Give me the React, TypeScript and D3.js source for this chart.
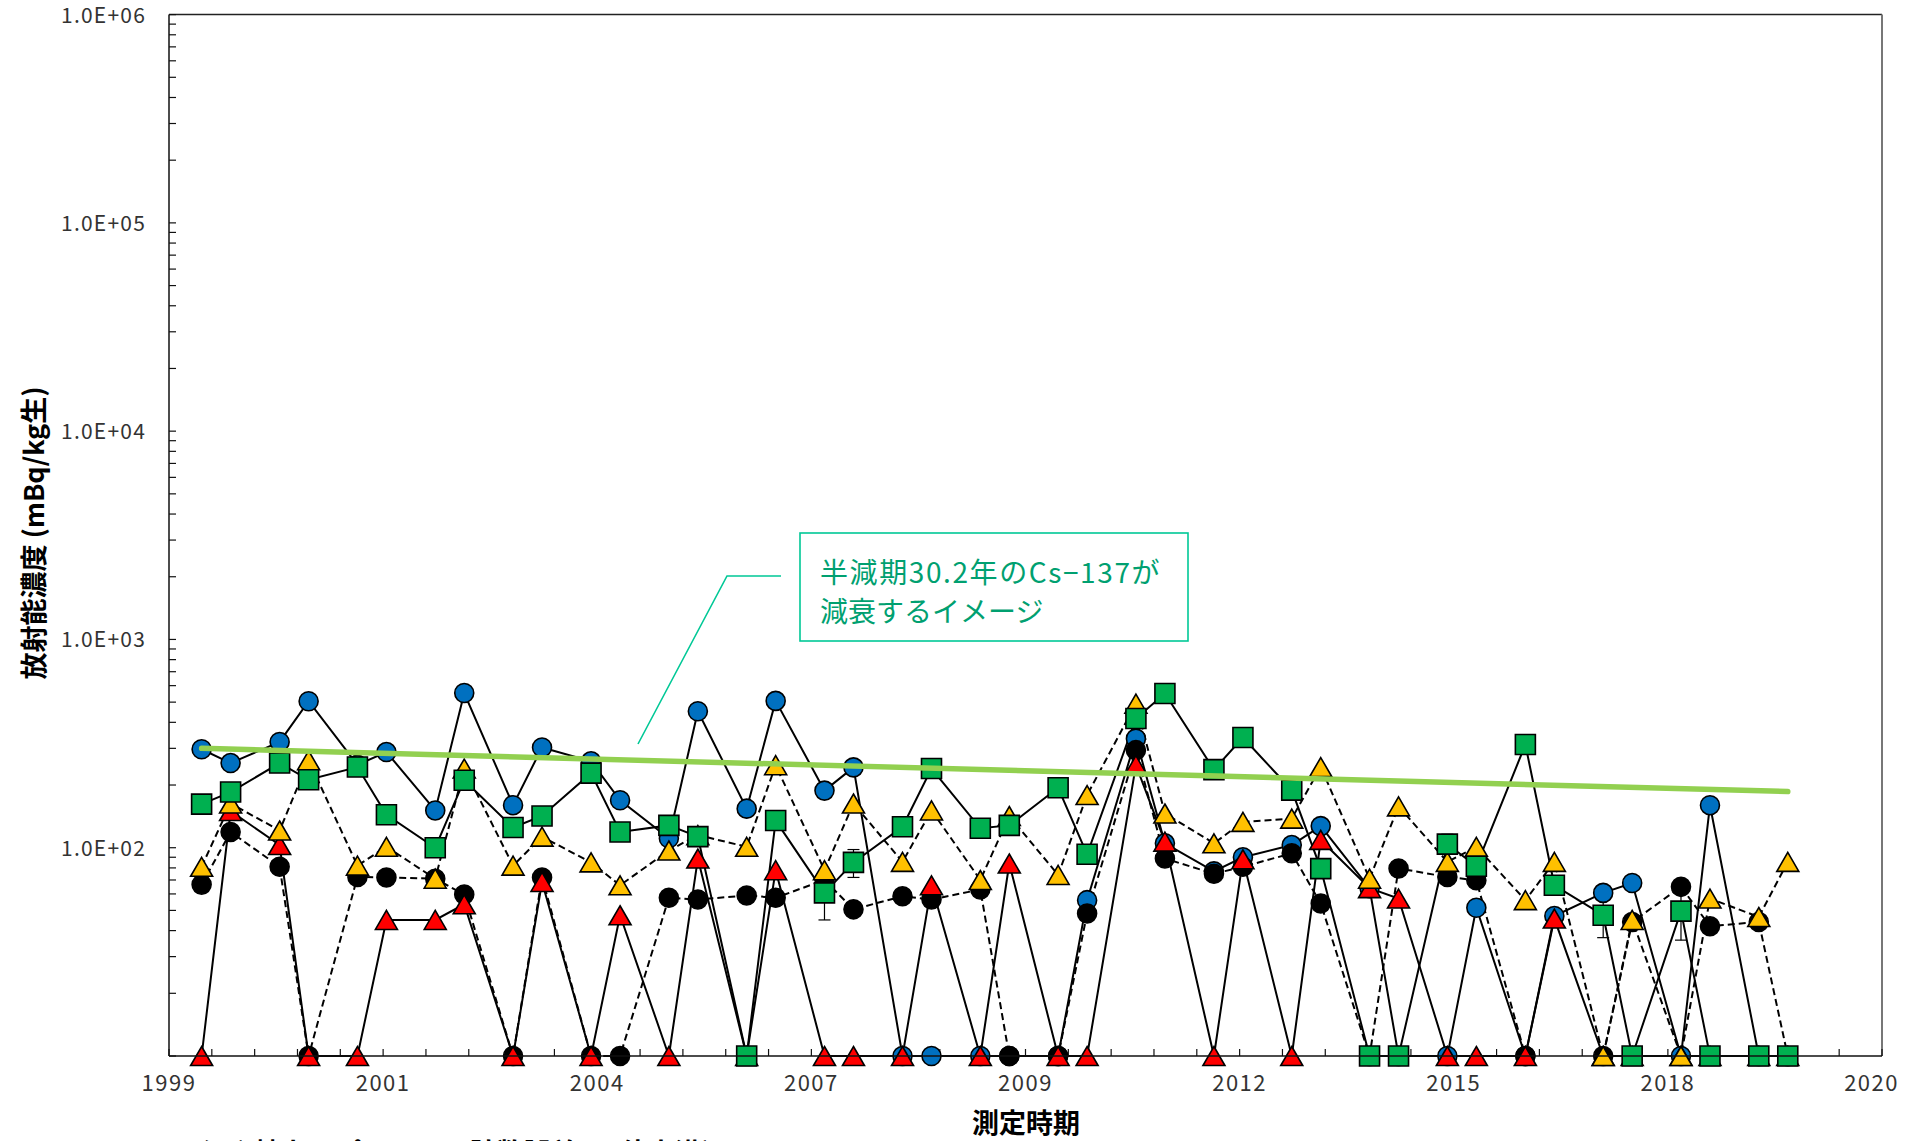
import { useEffect, useRef } from 'react';
import * as d3 from 'd3';

// ND: below 3x counting error, plotted on the axis (10)
const ND = 10;

const sampleDates = [
  '1999-09-01', '2000-01-15', '2000-09-01', '2001-01-15', '2001-09-01', '2002-01-15',
  '2002-09-01', '2003-01-15', '2003-09-01', '2004-01-15', '2004-09-01', '2005-01-15',
  '2005-09-01', '2006-01-15', '2006-09-01', '2007-01-15', '2007-09-01', '2008-01-15',
  '2008-09-01', '2009-01-15', '2009-09-01', '2010-01-15', '2010-09-01', '2011-01-15',
  '2011-09-01', '2012-01-15', '2012-09-01', '2013-01-15', '2013-09-01', '2014-01-15',
  '2014-09-01', '2015-01-15', '2015-09-01', '2016-01-15', '2016-09-01', '2017-01-15',
  '2017-09-01', '2018-01-15', '2018-09-01', '2019-01-15', '2019-09-01', '2020-01-15',
];

const blueValues = [
  297, 255, 322, 505, 250, 288, 151, 553, 160, 303, 260, 169, 111, 452, 154, 507, 188, 243, ND, ND, ND,
  ND, ND, 56, 334, 105, 77, 90, 103, 127, 64, ND, ND, 51.5, ND, 47, 60.7, 67.7, ND, 160, ND, ND,
];
const blackValues = [
  66.5, 119, 81, ND, 72.4, 72, 71, 59.6, ND, 72, ND, ND, 57.5, 56.4, 59, 57.5, 70, 50.6, 58.5, 56.4, 63,
  ND, ND, 48.3, 294, 88.7, 75, 81, 94, 54, ND, 79.5, 72.4, 69.8, ND, null, ND, 44, 64.9, 42, 44, ND,
];
const redValues = [
  ND, 150, 103, ND, ND, 45, 45, 53.5, ND, 68.5, ND, 47.4, ND, 88.7, ND, 78, ND, ND, ND, 66, ND,
  84, ND, ND, 249, 107, ND, 88, ND, 109, 64, 57, ND, ND, ND, 45.7, ND, ND, ND, ND, ND, ND,
];
const yellowValues = [
  81, 163, 121, 263, 82, 101, 71, 240, 82, 113, 85, 66, 97, 115, 101, 249, 78, 163, 85.5, 151, 70,
  142, 74, 179, 492, 146, 105, 133, 138, 244, 71, 158, 85.5, 101, 56, 85.5, ND, 45, ND, 57, 46.5, 85.5,
];
const greenValues = [
  162, 185, 255, 212, 244, 144, 100, 211, 125, 142, 228, 119, 128, 113, ND, 135, 60.7, 85, 126, 240, 124,
  128, 194, 93, 417, 550, 237, 338, 189, 79.4, ND, ND, 104, 81.5, 313, 66, 47.4, ND, 49.6, ND, ND, ND,
];
// green error bars: [sample index, low, high]
const greenErrors = [
  [16, 45, 72], [17, 72, 98], [21, 121, 135], [23, 88, 98], [32, 96, 116], [35, 60, 72], [36, 37, 56], [38, 36, 64],
];

// decay image of Cs-137 (half-life 30.2 y), start and end
const decayDates = ['1999-09-01', '2020-01-15'];
const decayValues = [300, 186];

const xTickLabels = ['1999', '2001', '2004', '2007', '2009', '2012', '2015', '2018', '2020'];
const yTickValues = [1e1, 1e2, 1e3, 1e4, 1e5, 1e6];
const yTickLabels = ['', '1.0E+02', '1.0E+03', '1.0E+04', '1.0E+05', '1.0E+06'];

const FONT = '"Noto Sans CJK JP", "Noto Sans", sans-serif';

function App() {
  const svgRef = useRef<SVGSVGElement>(null);

  useEffect(() => {
    if (svgRef.current === null) return;
    document.body.style.margin = '0';
    document.body.style.overflow = 'hidden';

    const width = 1905;
    const height = 1141;
    const left = 169, right = 1882, top = 14.6, bottom = 1056;

    const parse = d3.timeParse('%Y-%m-%d');
    const dates = sampleDates.map((d) => parse(d) as Date);

    const x = d3.scaleTime()
      .domain([new Date(1999, 3, 1), new Date(2021, 3, 1)])
      .range([left, right]);
    const y = d3.scaleLog().domain([10, 1e6]).range([bottom, top]);

    const svg = d3.select(svgRef.current)
      .attr('width', width)
      .attr('height', height)
      .style('position', 'absolute')
      .style('left', '0px')
      .style('top', '0px')
      .style('background', '#fff');
    svg.selectAll('*').remove();

    // frame
    svg.append('line').attr('x1', left).attr('x2', right).attr('y1', top).attr('y2', top)
      .attr('stroke', '#222').attr('stroke-width', 1.5);
    svg.append('line').attr('x1', right).attr('x2', right).attr('y1', top).attr('y2', bottom)
      .attr('stroke', '#777').attr('stroke-width', 2);

    // y axis with minor ticks
    const yAxis = svg.append('g');
    yAxis.append('line').attr('x1', left).attr('x2', left).attr('y1', top).attr('y2', bottom)
      .attr('stroke', '#111').attr('stroke-width', 1.5);
    const yMinor: number[] = [];
    yTickValues.slice(0, -1).forEach((v) => {
      for (let m = 2; m <= 9; m++) yMinor.push(v * m);
    });
    yAxis.selectAll('line.ymin').data(yTickValues.concat(yMinor)).enter().append('line')
      .attr('class', 'ymin')
      .attr('x1', left).attr('x2', left + 7)
      .attr('y1', (d) => y(d)).attr('y2', (d) => y(d))
      .attr('stroke', '#111').attr('stroke-width', 1.2);
    yAxis.selectAll('text').data(yTickValues).enter().append('text')
      .attr('x', 146)
      .attr('y', (d) => y(d) + 8)
      .attr('text-anchor', 'end')
      .attr('font-family', FONT)
      .attr('font-size', 21)
      .attr('letter-spacing', 1.2)
      .attr('fill', '#333')
      .text((d, i) => yTickLabels[i]);

    // x axis, 8 major intervals with 5 minor each
    const [d0, d1] = x.domain().map((d) => +d);
    const xMajor = d3.range(9).map((k) => new Date(d0 + (k * (d1 - d0)) / 8));
    const xMinor = d3.range(41).map((k) => new Date(d0 + (k * (d1 - d0)) / 40));
    const xAxis = svg.append('g');
    xAxis.selectAll('line.xt').data(xMinor).enter().append('line')
      .attr('class', 'xt')
      .attr('x1', (d) => x(d)).attr('x2', (d) => x(d))
      .attr('y1', bottom).attr('y2', bottom - 7)
      .attr('stroke', '#111').attr('stroke-width', 1.2);
    xAxis.selectAll('text').data(xMajor).enter().append('text')
      .attr('x', (d, i) => (i === xMajor.length - 1 ? x(d) + 17 : x(d)))
      .attr('y', 1091)
      .attr('text-anchor', (d, i) => (i === xMajor.length - 1 ? 'end' : 'middle'))
      .attr('font-family', FONT)
      .attr('font-size', 22)
      .attr('letter-spacing', 1.5)
      .attr('fill', '#333')
      .text((d, i) => xTickLabels[i]);

    // series
    const series = [
      { values: blueValues, shape: 'circle', fill: '#0070C0', dash: null },
      { values: blackValues, shape: 'circle', fill: '#000000', dash: '7,4' },
      { values: redValues, shape: 'triangle', fill: '#FF0000', dash: null },
      { values: yellowValues, shape: 'triangle', fill: '#FFC000', dash: '7,4' },
      { values: greenValues, shape: 'square', fill: '#00B050', dash: null },
    ];

    const line = d3.line<number | null>()
      .defined((d) => d !== null)
      .x((d, i) => x(dates[i]))
      .y((d) => y(d as number));

    const body = svg.append('g');
    series.forEach((s) => {
      body.append('path')
        .datum(s.values)
        .attr('d', line)
        .attr('fill', 'none')
        .attr('stroke', '#000')
        .attr('stroke-width', 2)
        .attr('stroke-dasharray', s.dash);
    });

    const xAxisLine = svg.append('line')
      .attr('x1', left).attr('x2', right).attr('y1', bottom).attr('y2', bottom)
      .attr('stroke', '#111').attr('stroke-width', 1.5);

    // error bars (green)
    const eb = body.append('g').attr('stroke', '#000').attr('stroke-width', 1.2);
    greenErrors.forEach(([i, lo, hi]) => {
      const cx = x(dates[i]);
      eb.append('line').attr('x1', cx).attr('x2', cx).attr('y1', y(lo)).attr('y2', y(hi));
      eb.append('line').attr('x1', cx - 6).attr('x2', cx + 6).attr('y1', y(lo)).attr('y2', y(lo));
      eb.append('line').attr('x1', cx - 6).attr('x2', cx + 6).attr('y1', y(hi)).attr('y2', y(hi));
    });

    const shapePath = (shape: string) => {
      if (shape === 'circle') return d3.symbol(d3.symbolCircle, Math.PI * 9.5 * 9.5)();
      if (shape === 'square') return 'M-10,-10H10V10H-10Z';
      return 'M0,-9.5L11,9.5L-11,9.5Z';
    };

    series.forEach((s) => {
      const pts = s.values
        .map((v, i) => ({ v, i }))
        .filter((p) => p.v !== null);
      body.append('g').selectAll('path').data(pts).enter().append('path')
        .attr('d', shapePath(s.shape))
        .attr('transform', (p) => `translate(${x(dates[p.i])},${y(p.v as number)})`)
        .attr('fill', s.fill)
        .attr('stroke', '#000')
        .attr('stroke-width', 1.6);
    });

    // decay line
    const decay = decayDates.map((d, i) => ({ t: parse(d) as Date, v: decayValues[i] }));
    svg.append('path')
      .datum(decay)
      .attr('d', d3.line<{ t: Date; v: number }>().x((d) => x(d.t)).y((d) => y(d.v)))
      .attr('fill', 'none')
      .attr('stroke', '#92D050')
      .attr('stroke-width', 5.5)
      .attr('stroke-linecap', 'round');

    // annotation
    const ann = svg.append('g');
    ann.append('path')
      .attr('d', 'M781,576 L727,576 L638,744')
      .attr('fill', 'none')
      .attr('stroke', '#00C896')
      .attr('stroke-width', 1.6);
    ann.append('rect')
      .attr('x', 800).attr('y', 533).attr('width', 388).attr('height', 108)
      .attr('fill', '#fff')
      .attr('stroke', '#00C896')
      .attr('stroke-width', 1.6);
    ann.append('text')
      .attr('x', 820).attr('y', 583)
      .attr('font-family', FONT).attr('font-size', 28).attr('fill', '#00A070')
      .attr('letter-spacing', 1.6)
      .text('半減期30.2年のCs−137が');
    ann.append('text')
      .attr('x', 820).attr('y', 622)
      .attr('font-family', FONT).attr('font-size', 28).attr('fill', '#00A070')
      .text('減衰するイメージ');

    // titles
    svg.append('text')
      .attr('transform', 'translate(44,533) rotate(-90)')
      .attr('text-anchor', 'middle')
      .attr('font-family', FONT).attr('font-size', 27).attr('font-weight', 'bold')
      .text('放射能濃度 (mBq/kg生)');
    svg.append('text')
      .attr('x', 1026).attr('y', 1133)
      .attr('text-anchor', 'middle')
      .attr('font-family', FONT).attr('font-size', 27).attr('font-weight', 'bold')
      .text('測定時期');
    svg.append('text')
      .attr('x', 200).attr('y', 1163)
      .attr('font-family', FONT).attr('font-size', 27).attr('font-weight', 'bold')
      .text('(※) 軸上のプロットは計数誤差の3倍未満)');

    xAxisLine.raise();
  }, [svgRef]);

  return <svg ref={svgRef} />;
}

export default App;
